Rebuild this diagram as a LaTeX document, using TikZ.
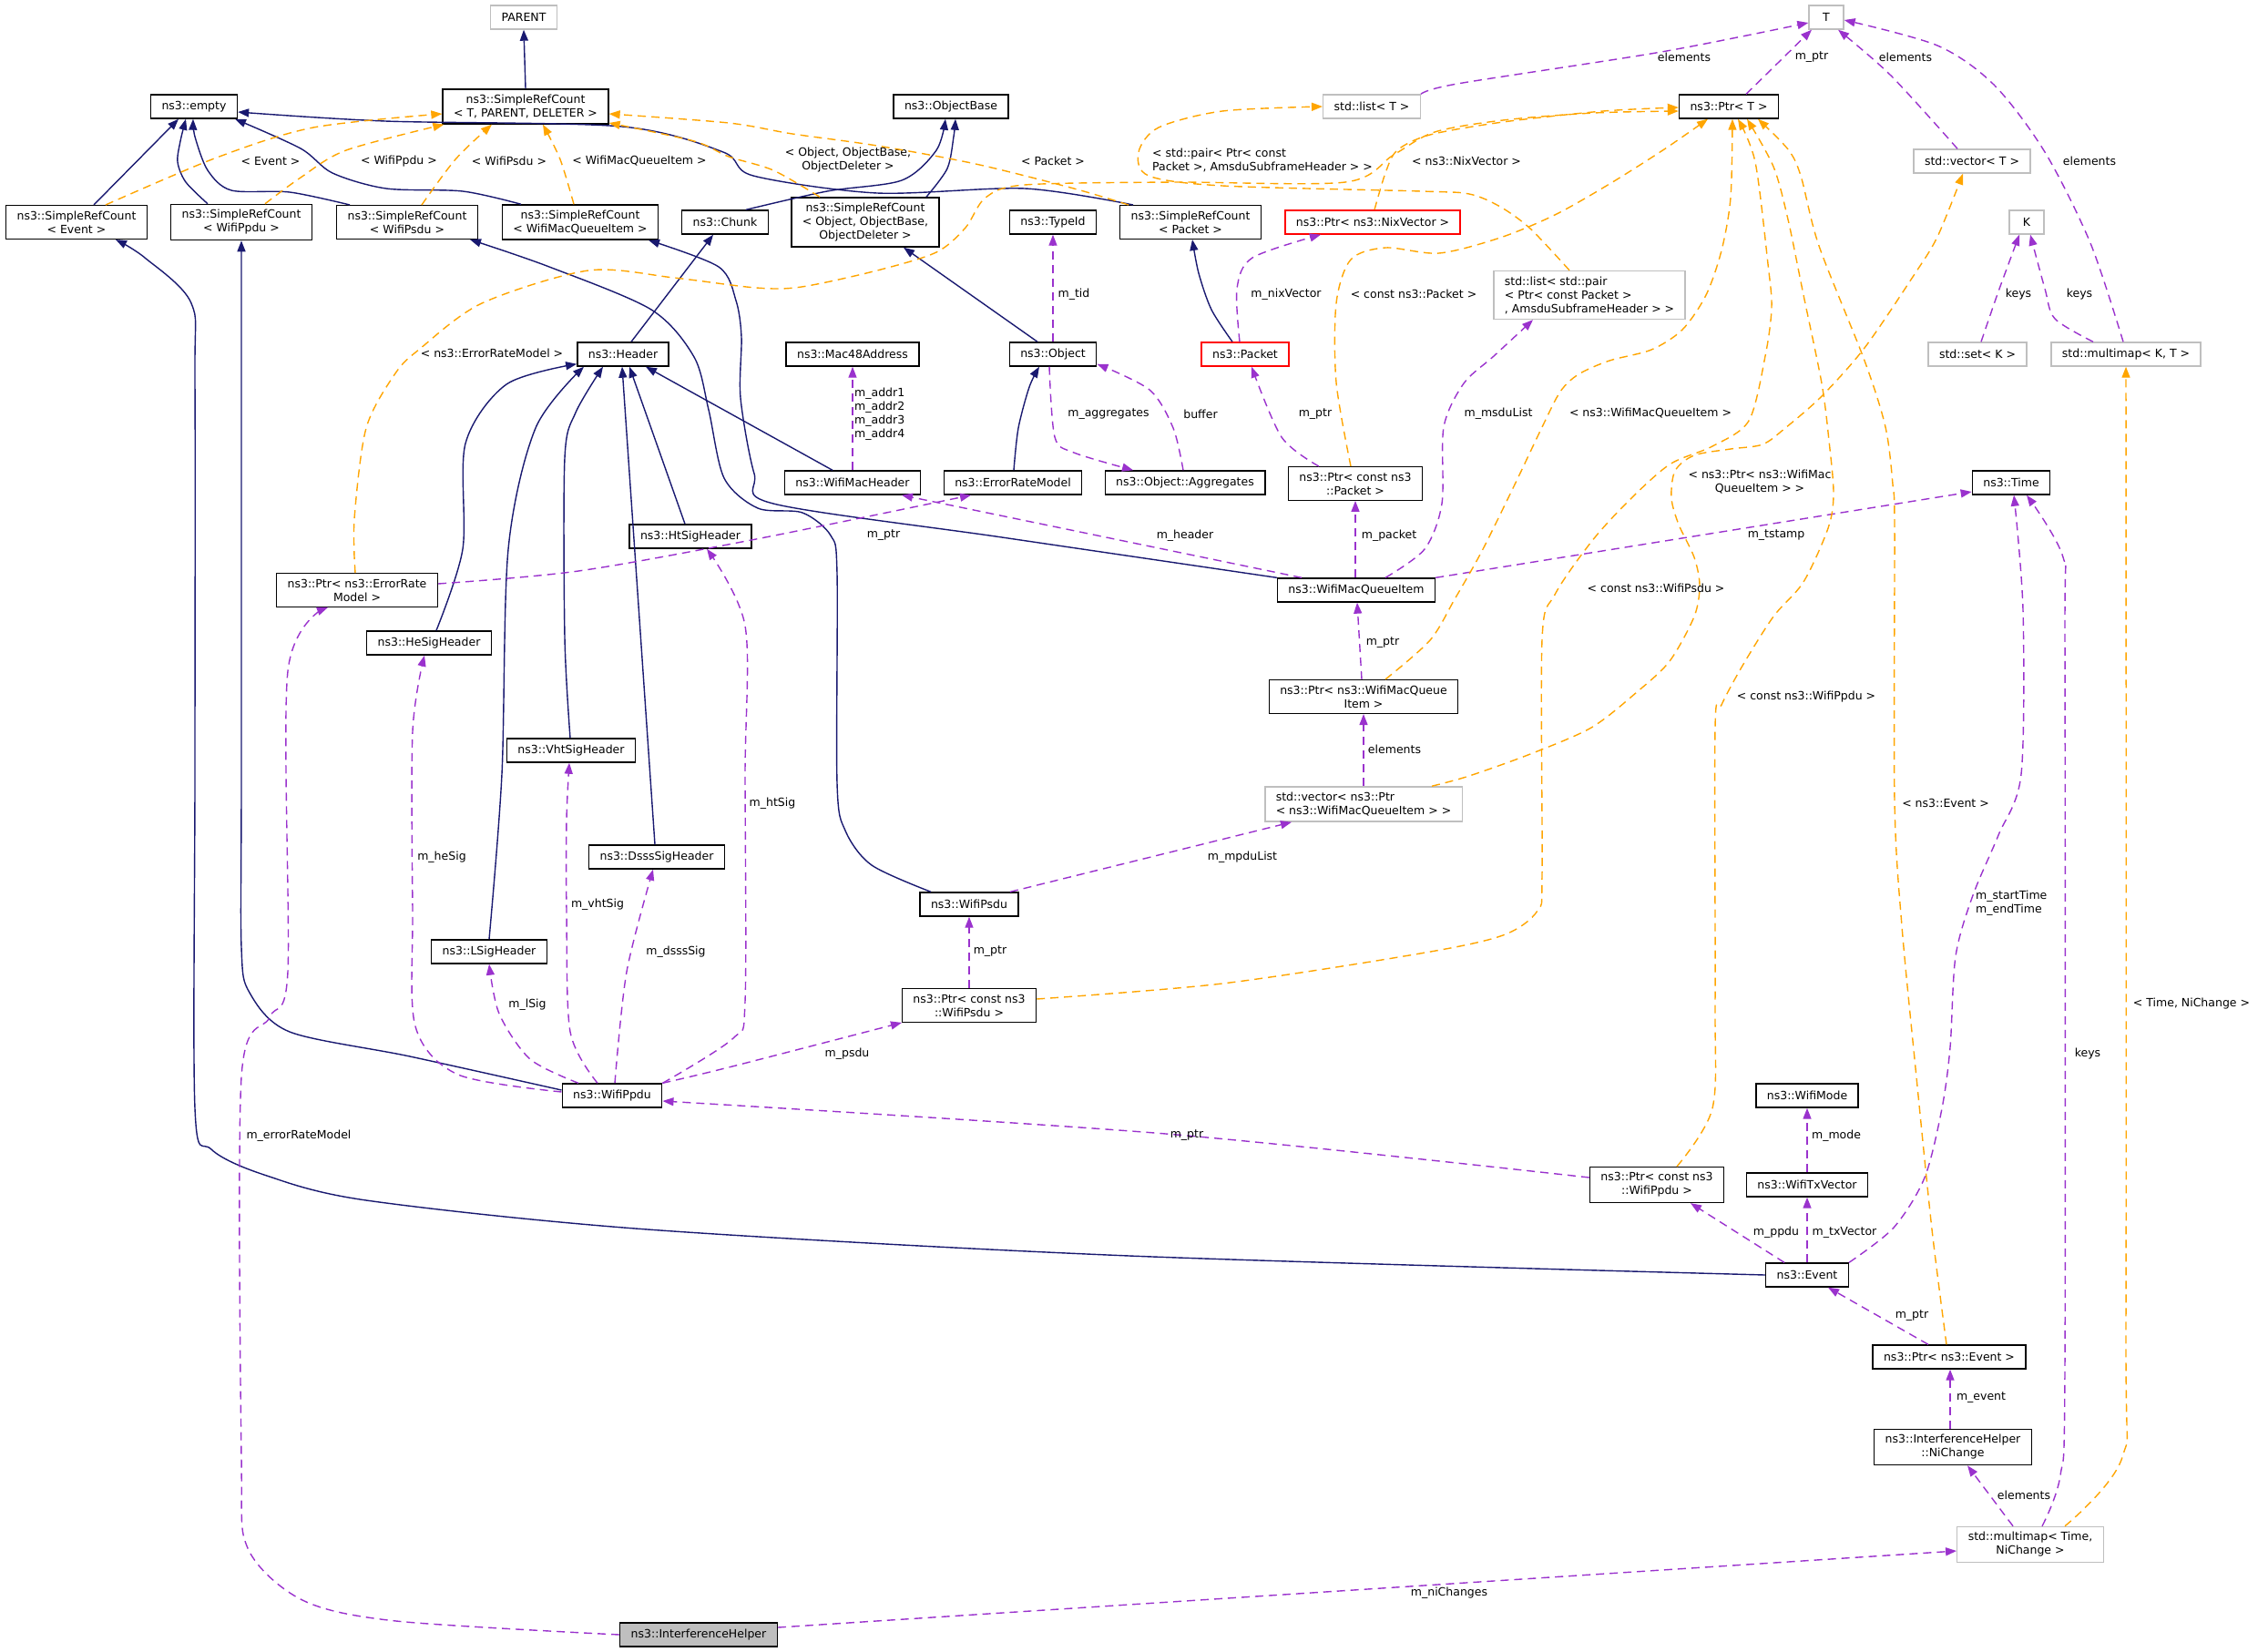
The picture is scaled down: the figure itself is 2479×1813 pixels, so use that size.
\documentclass[tikz,border=0pt]{standalone}
\usepackage{fontspec}
\setmainfont{DejaVu Sans}
\usetikzlibrary{arrows.meta, positioning, calc}
\definecolor{inhblue}{RGB}{25,25,112}
\definecolor{usepurple}{RGB}{154,50,205}
\definecolor{tplorange}{RGB}{255,165,0}
\definecolor{extgray}{RGB}{191,191,191}

\begin{document}
\begin{tikzpicture}[x=1pt, y=-1pt, >={Triangle[length=12pt,width=9pt]},
  cls/.style={draw=black, line width=1.4pt, fill=white, font=\fontsize{12.5}{15}\selectfont,
    inner xsep=12pt, inner ysep=6pt, minimum height=26pt, minimum width=38pt, align=center},
  extcls/.style={cls, draw=extgray},
  redcls/.style={cls, draw=red},
  lbl/.style={font=\fontsize{12.5}{15}\selectfont, inner sep=0pt, align=center},
  inh/.style={->, draw=inhblue, line width=1.4pt},
  usage/.style={->, draw=usepurple, line width=1.4pt, dash pattern=on 9pt off 6pt},
  tmpl/.style={->, draw=tplorange, line width=1.4pt, dash pattern=on 9pt off 6pt}]
\useasboundingbox (0,0) rectangle (2479,1813);

% Klassen
\node[extcls] (parent) at (575,19) {PARENT};
\node[cls] (srcT) at (577,117) {ns3::SimpleRefCount\\< T, PARENT, DELETER >};
\node[cls] (empty) at (213,117) {ns3::empty};
\node[cls] (srcEvent) at (84,244) {ns3::SimpleRefCount\\< Event >};
\node[cls] (srcPpdu) at (265,244) {ns3::SimpleRefCount\\< WifiPpdu >};
\node[cls] (srcPsdu) at (447,244) {ns3::SimpleRefCount\\< WifiPsdu >};
\node[cls] (srcMqi) at (637,244) {ns3::SimpleRefCount\\< WifiMacQueueItem >};
\node[cls] (chunk) at (796,244) {ns3::Chunk};
\node[cls] (header) at (684,389) {ns3::Header};
\node[cls] (objBase) at (1044,117) {ns3::ObjectBase};
\node[cls] (srcObject) at (950,244) {ns3::SimpleRefCount\\< Object, ObjectBase,\\ObjectDeleter >};
\node[cls] (typeId) at (1156,244) {ns3::TypeId};
\node[cls] (srcPacket) at (1307,244) {ns3::SimpleRefCount\\< Packet >};
\node[redcls] (ptrNix) at (1507,244) {ns3::Ptr< ns3::NixVector >};
\node[extcls] (listT) at (1506,117) {std::list< T >};
\node[cls] (mac48) at (936,389) {ns3::Mac48Address};
\node[cls] (object) at (1156,389) {ns3::Object};
\node[redcls] (packet) at (1367,389) {ns3::Packet};
\node[extcls] (tT) at (2005,19) {T};
\node[cls] (ptrT) at (1898,117) {ns3::Ptr< T >};
\node[extcls] (vecT) at (2165,177) {std::vector< T >};
\node[extcls] (kK) at (2225,244) {K};
\node[extcls, align=left] (listPair) at (1745,324) {std::list< std::pair\\< Ptr< const Packet >\\, AmsduSubframeHeader > >};
\node[extcls] (setK) at (2171,389) {std::set< K >};
\node[extcls] (mmapKT) at (2334,389) {std::multimap< K, T >};
\node[cls] (htSig) at (758,589) {ns3::HtSigHeader};
\node[cls] (ptrErm) at (392,648) {ns3::Ptr< ns3::ErrorRate\\Model >};
\node[cls] (heSig) at (471,706) {ns3::HeSigHeader};
\node[cls] (vhtSig) at (627,824) {ns3::VhtSigHeader};
\node[cls] (macHdr) at (936,530) {ns3::WifiMacHeader};
\node[cls] (erm) at (1112,530) {ns3::ErrorRateModel};
\node[cls] (aggr) at (1301,530) {ns3::Object::Aggregates};
\node[cls] (ptrPkt) at (1488,531) {ns3::Ptr< const ns3\\::Packet >};
\node[cls] (mqi) at (1489,648) {ns3::WifiMacQueueItem};
\node[cls] (ptrMqi) at (1497,765) {ns3::Ptr< ns3::WifiMacQueue\\Item >};
\node[cls] (time) at (2208,530) {ns3::Time};
\node[cls] (dsss) at (721,941) {ns3::DsssSigHeader};
\node[cls] (lsig) at (537,1045) {ns3::LSigHeader};
\node[cls] (ppdu) at (672,1203) {ns3::WifiPpdu};
\node[extcls, align=left] (vecMqi) at (1497,883) {std::vector< ns3::Ptr\\< ns3::WifiMacQueueItem > >};
\node[cls] (psdu) at (1064,993) {ns3::WifiPsdu};
\node[cls] (ptrPsdu) at (1064,1104) {ns3::Ptr< const ns3\\::WifiPsdu >};
\node[cls] (wifiMode) at (1984,1203) {ns3::WifiMode};
\node[cls] (txVec) at (1984,1301) {ns3::WifiTxVector};
\node[cls] (ptrPpdu) at (1819,1301) {ns3::Ptr< const ns3\\::WifiPpdu >};
\node[cls] (event) at (1984,1400) {ns3::Event};
\node[cls] (ptrEvent) at (2140,1490) {ns3::Ptr< ns3::Event >};
\node[cls] (niChange) at (2144,1589) {ns3::InterferenceHelper\\::NiChange};
\node[extcls] (mmapTN) at (2229,1696) {std::multimap< Time,\\NiChange >};
\node[cls, fill=extgray] (ih) at (767,1795) {ns3::InterferenceHelper};

% Vererbung
\draw[inh] (srcT.north) -- (parent.south);
\draw[inh] ([xshift=19pt]srcEvent.north) -- ([xshift=-17pt]empty.south);
\draw[inh] plot[smooth] coordinates {([xshift=-37pt]srcPpdu.north) (204,200) (195,178) (198,155) ([xshift=-9pt]empty.south)};
\draw[inh] plot[smooth] coordinates {([xshift=-63pt]srcPsdu.north) (318,211) (254,209) (228,187) (214,150) ([xshift=-1pt]empty.south)};
\draw[inh] plot[smooth] coordinates {([xshift=-65pt]srcMqi.north) (508,210) (424,207) (365,190) (330,163) ([xshift=45pt]empty.south)};
\draw[inh] plot[smooth] coordinates {([xshift=-63pt]srcPacket.north) (1125,207) (963,212) (827,193) (794,167) (683,139) (423,133) ([yshift=-6pt]empty.east)};
\draw[inh] plot[smooth] coordinates {([xshift=23pt]chunk.north) (908,210) (990,198) (1028,165) ([xshift=-6pt]objBase.south)};
\draw[inh] plot[smooth] coordinates {([xshift=67pt]srcObject.north) (1040,185) (1047,150) ([xshift=5pt]objBase.south)};
\draw[inh] ([xshift=9pt]header.north) -- ([xshift=-13pt]chunk.south);
\draw[inh] ([xshift=-17pt]object.north) -- ([xshift=42pt]srcObject.south);
\draw[inh] plot[smooth] coordinates {([xshift=-14pt]packet.north) (1330,340) (1316,300) ([xshift=2pt]srcPacket.south)};
\draw[inh] plot[smooth] coordinates {([xshift=-42pt]psdu.north) (957,950) (928,912) (919,860) (919,630) (912,588) (881,563) (832,558) (795,525) (778,450) (762,392) (715,340) (603,293) ([xshift=69pt]srcPsdu.south)};
\draw[inh] plot[smooth] coordinates {(mqi.north west) (1100,590) (849,553) (828,520) (813,437) (814,370) (808,330) (789,293) ([xshift=75pt]srcMqi.south)};
\draw[inh] ([xshift=-22pt]macHdr.north) -- ([xshift=25pt]header.south);
\draw[inh] ([xshift=-6pt]htSig.north) -- ([xshift=7pt]header.south);
\draw[inh] plot[smooth] coordinates {([xshift=-1pt]vhtSig.north) (620,700) (620,503) (632,453) ([xshift=-22pt]header.south)};
\draw[inh] ([xshift=-2pt]dsss.north) -- ([xshift=-1pt]header.south);
\draw[inh] plot[smooth] coordinates {(lsig.north) (551,850) (558,603) (588,470) ([xshift=-43pt]header.south)};
\draw[inh] plot[smooth] coordinates {([xshift=8pt]heSig.north) (508,603) (511,487) (556,422) ([yshift=3pt]header.south west)};
\draw[inh] plot[smooth] coordinates {([xshift=1pt]erm.north) (1118,470) (1130,425) ([xshift=-15pt]object.south)};
\draw[inh] plot[smooth] coordinates {([yshift=6pt]ppdu.west) (450,1160) (318,1133) (274,1090) (265,1040) (265,850) (srcPpdu.south)};
\draw[inh] plot[smooth] coordinates {(event.west) (1240,1379) (711,1350) (402,1318) (290,1290) (232,1262) (214,1217) (214,850) (214,420) (210,333) (159,283) ([xshift=43pt]srcEvent.south)};

% Member
\draw[usage] plot[smooth] coordinates {(listT.north east) (1600,92) (1824,57) ([yshift=-6pt]tT.west)};
\node[lbl] (lListT) at (1849,63) {elements};
\draw[usage] ([xshift=19pt]ptrT.north) -- ([xshift=-16pt]tT.south);
\node[lbl] (lPtrT) at (1989,63) {m\_ptr};
\draw[usage] plot[smooth] coordinates {([xshift=-16pt]vecT.north) (2076,83) ([xshift=13pt]tT.south)};
\node[lbl] (lVecT) at (2092,63) {elements};
\draw[usage] plot[smooth] coordinates {([xshift=-3pt]mmapKT.north) (2295,267) (2245,167) (2189,93) (2127,50) ([yshift=-3pt]tT.east)};
\node[lbl] (lMmapT) at (2294,177) {elements};
\draw[usage] plot[smooth] coordinates {([xshift=4pt]setK.north) (2194,320) ([xshift=-8pt]kK.south)};
\node[lbl] (lSetK) at (2216,323) {keys};
\draw[usage] plot[smooth] coordinates {([xshift=-36pt]mmapKT.north) (2256,350) (2245,317) ([xshift=4pt]kK.south)};
\node[lbl] (lMmapK) at (2283,323) {keys};
\draw[usage] (object.north) -- (typeId.south);
\node[lbl] (lTid) at (1179,323) {m\_tid};
\draw[usage] plot[smooth] coordinates {([xshift=-6pt]packet.north) (1358,317) (1375,283) ([xshift=-57pt]ptrNix.south)};
\node[lbl] (lNix) at (1412,323) {m\_nixVector};
\draw[usage] (macHdr.north) -- (mac48.south);
\node[lbl, align=left, anchor=west] (lAddr) at (938,455) {m\_addr1\\m\_addr2\\m\_addr3\\m\_addr4};
\draw[usage] plot[smooth] coordinates {([xshift=-4pt]object.south) (1158,480) (1179,497) ([xshift=-57pt]aggr.north)};
\node[lbl] (lAggr) at (1217,455) {m\_aggregates};
\draw[usage] plot[smooth] coordinates {([xshift=-2pt]aggr.north) (1288,470) (1262,428) ([yshift=3pt]object.south east)};
\node[lbl] (lBuf) at (1318,455) {buffer};
\draw[usage] plot[smooth] coordinates {([xshift=-40pt]ptrPkt.north) (1407,480) ([xshift=7pt]packet.south)};
\node[lbl] (lPktPtr) at (1444,455) {m\_ptr};
\draw[usage] ([xshift=-1pt]mqi.north) -- (ptrPkt.south);
\node[lbl] (lPacket) at (1525,588) {m\_packet};
\draw[usage] plot[smooth] coordinates {([xshift=32pt]mqi.north) (1564,603) (1583,553) (1585,469) (1607,421) (1640,391) ([xshift=-62pt]listPair.south)};
\node[lbl] (lMsdu) at (1645,454) {m\_msduList};
\draw[usage] ([xshift=-60pt]mqi.north) -- ([xshift=54pt]macHdr.south);
\node[lbl] (lHeader) at (1301,588) {m\_header};
\draw[usage] (mqi.north east) -- ([yshift=-10pt]time.west);
\node[lbl] (lTstamp) at (1950,588) {m\_tstamp};
\draw[usage] ([xshift=-2pt]ptrMqi.north) -- ([xshift=1pt]mqi.south);
\node[lbl] (lMqiPtr) at (1518,706) {m\_ptr};
\draw[usage] (vecMqi.north) -- (ptrMqi.south);
\node[lbl] (lVecMqi) at (1531,823) {elements};
\draw[usage] plot[smooth] coordinates {([yshift=7pt]ptrErm.east) (635,627) (830,592) ([xshift=-46pt]erm.south)};
\node[lbl] (lErmPtr) at (970,588) {m\_ptr};
\draw[usage] ([xshift=45pt]psdu.north) -- ([xshift=-79pt]vecMqi.south);
\node[lbl] (lMpdu) at (1364,941) {m\_mpduList};
\draw[usage] (ptrPsdu.north) -- (psdu.south);
\node[lbl] (lPsduPtr) at (1087,1045) {m\_ptr};
\draw[usage] plot[smooth] coordinates {(ppdu.north east) (800,1172) ([xshift=-74pt]ptrPsdu.south)};
\node[lbl] (lPsdu) at (930,1157) {m\_psdu};
\draw[usage] plot[smooth] coordinates {([xshift=-37pt]ppdu.north) (582,1163) (548,1113) (lsig.south)};
\node[lbl] (lLsig) at (579,1103) {m\_lSig};
\draw[usage] plot[smooth] coordinates {([xshift=-16pt]ppdu.north) (626,1133) (622,1000) (622,900) ([xshift=-2pt]vhtSig.south)};
\node[lbl] (lVht) at (656,993) {m\_vhtSig};
\draw[usage] plot[smooth] coordinates {([xshift=3pt]ppdu.north) (688,1067) ([xshift=-4pt]dsss.south)};
\node[lbl] (lDsss) at (742,1045) {m\_dsssSig};
\draw[usage] plot[smooth] coordinates {([yshift=4pt]ppdu.west) (503,1180) (456,1127) (453,1000) (453,803) ([xshift=-5pt]heSig.south)};
\node[lbl] (lHe) at (485,941) {m\_heSig};
\draw[usage] plot[smooth] coordinates {(ppdu.north east) (805,1140) (818,1100) (818,850) (818,687) ([xshift=18pt]htSig.south)};
\node[lbl] (lHt) at (848,882) {m\_htSig};
\draw[usage] plot[smooth] coordinates {([yshift=8pt]ptrPpdu.west) (1280,1245) ([yshift=-6pt]ppdu.east)};
\node[lbl] (lPpduPtr) at (1303,1247) {m\_ptr};
\draw[usage] ([xshift=-25pt]event.north) -- ([xshift=37pt]ptrPpdu.south);
\node[lbl] (lPpdu) at (1950,1353) {m\_ppdu};
\draw[usage] (event.north) -- (txVec.south);
\node[lbl] (lTx) at (2025,1353) {m\_txVector};
\draw[usage] (txVec.north) -- (wifiMode.south);
\node[lbl] (lMode) at (2016,1247) {m\_mode};
\draw[usage] plot[smooth] coordinates {([xshift=46pt]event.north) (2079,1348) (2113,1293) (2132,1217) (2141,1150) (2147,1050) (2166,983) (2194,917) (2219,850) (2221,670) ([xshift=3pt]time.south)};
\node[lbl, align=left, anchor=west] (lStart) at (2169,992) {m\_startTime\\m\_endTime};
\draw[usage] ([xshift=-23pt]ptrEvent.north) -- ([xshift=23pt]event.south);
\node[lbl] (lEvPtr) at (2099,1445) {m\_ptr};
\draw[usage] ([xshift=-3pt]niChange.north) -- ([xshift=1pt]ptrEvent.south);
\node[lbl] (lEvent) at (2175,1535) {m\_event};
\draw[usage] ([xshift=-19pt]mmapTN.north) -- ([xshift=16pt]niChange.south);
\node[lbl] (lNiElem) at (2222,1642) {elements};
\draw[usage] plot[smooth] coordinates {([xshift=13pt]mmapTN.north) (2262,1620) (2267,1500) (2267,700) (2265,612) ([xshift=17pt]time.south)};
\node[lbl] (lKeys) at (2292,1157) {keys};
\draw[usage] ([yshift=8pt]ih.east) -- ([yshift=-7pt]mmapTN.west);
\node[lbl] (lNiCh) at (1591,1749) {m\_niChanges};
\draw[usage] plot[smooth] coordinates {(ih.west) (435,1780) (332,1757) (272,1700) (265,1600) (265,1183) (296,1117) (316,1067) (316,737) ([xshift=-32pt]ptrErm.south)};
\node[lbl] (lErm) at (328,1247) {m\_errorRateModel};

% Template-Instanzen
\draw[tmpl] plot[smooth] coordinates {([xshift=32pt]srcEvent.north) (238,173) (344,140) ([yshift=-8pt]srcT.west)};
\node[lbl] (tEvent) at (297,177) {< Event >};
\draw[tmpl] plot[smooth] coordinates {([xshift=26pt]srcPpdu.north) (330,195) (380,165) ([xshift=2pt]srcT.south west)};
\node[lbl] (tPpdu) at (438,177) {< WifiPpdu >};
\draw[tmpl] plot[smooth] coordinates {([xshift=16pt]srcPsdu.north) (500,175) ([xshift=-37pt]srcT.south)};
\node[lbl] (tPsdu) at (559,177) {< WifiPsdu >};
\draw[tmpl] plot[smooth] coordinates {([xshift=-7pt]srcMqi.north) (615,175) ([xshift=19pt]srcT.south)};
\node[lbl] (tMqi) at (702,177) {< WifiMacQueueItem >};
\draw[tmpl] plot[smooth] coordinates {([xshift=-50pt]srcObject.north) (849,187) (800,172) (762,155) ([yshift=-18pt]srcT.east)};
\node[lbl] (tObject) at (931,176) {< Object, ObjectBase,\\ObjectDeleter >};
\draw[tmpl] plot[smooth] coordinates {([xshift=-68pt]srcPacket.north) (1179,207) (1071,180) (963,160) (870,147) (800,135) ([yshift=-8pt]srcT.east)};
\node[lbl] (tPacket) at (1156,177) {< Packet >};
\draw[tmpl] plot[smooth] coordinates {([xshift=-2pt]ptrErm.north) (389,570) (402,470) (434,410) (461,383) (529,333) (646,297) (740,305) (830,316) (880,315) (963,297) (1028,277) (1060,250) (1082,217) (1125,203) (1288,200) (1477,200) (1530,170) (1575,145) (1650,132) (1750,124) ([yshift=-5pt]ptrT.west)};
\node[lbl] (tErm) at (540,388) {< ns3::ErrorRateModel >};
\draw[tmpl] plot[smooth] coordinates {([xshift=2pt]ptrNix.north) (1521,190) (1534,165) (1570,148) (1650,134) (1760,122) ([yshift=-1pt]ptrT.west)};
\node[lbl] (tNix) at (1610,177) {< ns3::NixVector >};
\draw[tmpl] plot[smooth] coordinates {([xshift=-22pt]listPair.north) (1680,251) (1647,227) (1613,213) (1560,210) (1342,204) (1261,193) (1250,167) (1272,140) (1342,122) (listT.west)};
\node[lbl, align=left, anchor=west] (tPair) at (1265,176) {< std::pair< Ptr< const\\Packet >, AmsduSubframeHeader > >};
\draw[tmpl] plot[smooth] coordinates {([xshift=-5pt]ptrPkt.north) (1467,420) (1467,333) (1483,285) (1521,272) (1580,278) (1647,261) (1707,236) (1767,202) (1827,164) ([xshift=-23pt]ptrT.south)};
\node[lbl] (tPkt) at (1552,323) {< const ns3::Packet >};
\draw[tmpl] plot[smooth] coordinates {([xshift=24pt]ptrMqi.north) (1570,703) (1597,658) (1627,605) (1663,532) (1693,469) (1713,430) (1733,411) (1767,396) (1813,384) (1847,362) (1873,324) (1890,275) (1900,217) ([xshift=4pt]ptrT.south)};
\node[lbl] (tMqiItem) at (1812,454) {< ns3::WifiMacQueueItem >};
\draw[tmpl] plot[smooth] coordinates {([xshift=75pt]vecMqi.north) (1613,852) (1680,828) (1747,799) (1797,760) (1833,726) (1860,677) (1866,643) (1860,612) (1843,576) (1835,547) (1839,517) (1860,500) (1900,493) (1935,488) (1960,470) (2000,435) (2047,382) (2100,304) (2127,260) ([xshift=-10pt]vecT.south)};
\node[lbl] (tVecPtr) at (1932,529) {< ns3::Ptr< ns3::WifiMac\\QueueItem > >};
\draw[tmpl] plot[smooth] coordinates {([yshift=7pt]ptrPsdu.east) (1342,1080) (1559,1047) (1650,1027) (1688,1000) (1693,960) (1693,702) (1707,653) (1747,595) (1787,551) (1833,510) (1880,490) (1920,462) (1938,391) (1945,338) (1941,290) (1927,178) ([xshift=10pt]ptrT.south)};
\node[lbl] (tPsduC) at (1818,646) {< const ns3::WifiPsdu >};
\draw[tmpl] plot[smooth] coordinates {([xshift=22pt]ptrPpdu.north) (1880,1217) (1883,1100) (1883,799) (1890,774) (1913,731) (1947,677) (1980,639) (2007,580) (2013,542) (2008,484) (2000,421) (1980,324) (1963,241) (1947,183) ([xshift=20pt]ptrT.south)};
\node[lbl] (tPpduC) at (1983,765) {< const ns3::WifiPpdu >};
\draw[tmpl] plot[smooth] coordinates {([xshift=-3pt]ptrEvent.north) (2121,1350) (2104,1183) (2088,1017) (2080,880) (2080,580) (2078,532) (2070,469) (2047,396) (1997,270) (1977,193) (1963,164) ([xshift=32pt]ptrT.south)};
\node[lbl] (tEv) at (2136,882) {< ns3::Event >};
\draw[tmpl] plot[smooth] coordinates {([xshift=38pt]mmapTN.north) (2330,1600) (2334,1450) (mmapKT.south)};
\node[lbl] (tTime) at (2406,1102) {< Time, NiChange >};
\end{tikzpicture}
\end{document}
